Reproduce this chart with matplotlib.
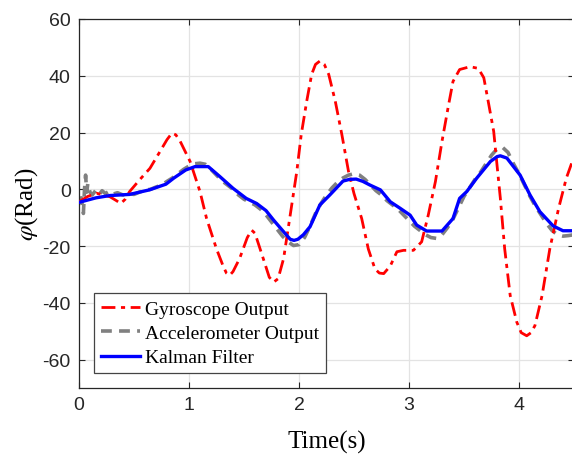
import matplotlib
matplotlib.use('Agg')
import matplotlib.pyplot as plt

# ── Data ───────────────────────────────────────────────────
gyro_t = [0.00, 0.08, 0.16, 0.28, 0.34, 0.38, 0.42, 0.46, 0.55, 0.645, 0.736, 0.80,
          0.845, 0.88, 0.92, 1.01, 1.10, 1.16, 1.25, 1.31, 1.34, 1.37, 1.40, 1.46,
          1.53, 1.57, 1.60, 1.675, 1.73, 1.77, 1.81, 1.86, 1.92, 1.98, 2.02, 2.07,
          2.115, 2.15, 2.19, 2.23, 2.27, 2.33, 2.39, 2.45, 2.50, 2.57, 2.63, 2.69,
          2.73, 2.77, 2.83, 2.89, 2.95, 3.04, 3.115, 3.175, 3.24, 3.30, 3.36, 3.40,
          3.46, 3.555, 3.63, 3.68, 3.72, 3.77, 3.80, 3.83, 3.87, 3.92, 3.98, 4.02,
          4.07, 4.11, 4.145, 4.21, 4.28, 4.36, 4.43, 4.50]
gyro_v = [-4.4, -2.5, -1.4, -2.6, -4.0, -5.0, -3.5, -0.8, 3.3, 7.4, 13.3, 17.5,
          19.8, 19.2, 16.9, 9.8, -0.8, -10.3, -21.0, -27.0, -29.5, -30.3, -29.0, -24.4,
          -17.0, -14.4, -15.5, -24.4, -31.0, -32.7, -31.5, -24.4, -9.1, 6.3, 19.2, 31.0,
          40.5, 44.0, 45.2, 44.0, 40.5, 31.0, 19.2, 6.3, -1.5, -10.3, -21.0, -28.0,
          -29.5, -29.7, -27.0, -22.0, -21.5, -21.5, -18.5, -9.1, 2.7, 16.9, 29.8, 38.0,
          42.2, 43.2, 42.6, 39.3, 31.0, 20.4, 8.6, -3.0, -21.0, -37.4, -46.8, -50.5,
          -51.6, -50.5, -48.0, -37.4, -21.0, -6.7, 3.9, 11.5]

acc_t = [0.00, 0.02, 0.03, 0.04, 0.05, 0.06, 0.07, 0.08, 0.10, 0.12, 0.15, 0.18,
         0.21, 0.24, 0.27, 0.30, 0.35, 0.40, 0.45, 0.50, 0.55, 0.60, 0.65, 0.70,
         0.75, 0.80, 0.85, 0.90, 0.95, 1.00, 1.05, 1.10, 1.15, 1.20, 1.25, 1.30,
         1.35, 1.40, 1.45, 1.50, 1.55, 1.60, 1.65, 1.70, 1.75, 1.80, 1.85, 1.90,
         1.95, 2.00, 2.05, 2.10, 2.15, 2.20, 2.25, 2.30, 2.35, 2.40, 2.45, 2.50,
         2.55, 2.60, 2.65, 2.70, 2.75, 2.80, 2.85, 2.90, 2.95, 3.00, 3.05, 3.10,
         3.15, 3.20, 3.25, 3.30, 3.35, 3.40, 3.45, 3.50, 3.55, 3.60, 3.65, 3.70,
         3.75, 3.80, 3.85, 3.90, 3.95, 4.00, 4.05, 4.10, 4.15, 4.20, 4.25, 4.30,
         4.35, 4.40, 4.45, 4.50]
acc_v = [-4.0, -3.0, -6.0, -8.5, 0.0, 5.0, -1.0, 2.0, -1.0, -2.0, -0.5, -2.0,
         -0.5, -1.5, -0.8, -1.8, -1.2, -2.0, -1.5, -1.8, -1.0, -0.3, 0.0, 0.8,
         1.5, 2.8, 4.0, 5.5, 7.0, 8.2, 9.0, 9.2, 8.8, 7.0, 5.0, 3.0,
         1.5, 0.0, -2.0, -3.5, -4.5, -5.5, -7.0, -9.0, -11.5, -14.0, -16.5, -18.5,
         -19.8, -19.5, -17.0, -13.0, -8.5, -5.0, -2.0, 0.5, 2.5, 4.0, 5.0, 5.5,
         5.0, 3.5, 1.5, -0.5, -2.0, -4.0, -5.5, -7.0, -9.0, -11.0, -13.0, -14.5,
         -16.0, -17.0, -17.3, -16.0, -13.5, -10.5, -6.5, -2.5, 0.5, 3.5, 6.0, 9.0,
         12.0, 14.2, 14.8, 13.0, 9.0, 5.5, 1.5, -2.5, -6.0, -9.0, -12.0, -14.5,
         -16.0, -16.5, -16.3, -16.0]

kal_t = [0.00, 0.155, 0.28, 0.46, 0.64, 0.79, 0.86, 0.97, 1.055, 1.175, 1.28, 1.40,
         1.52, 1.615, 1.70, 1.77, 1.85, 1.92, 1.955, 1.99, 2.04, 2.10, 2.19, 2.28,
         2.40, 2.46, 2.52, 2.58, 2.645, 2.74, 2.83, 2.92, 3.01, 3.07, 3.16, 3.30,
         3.40, 3.46, 3.525, 3.615, 3.74, 3.80, 3.83, 3.89, 4.01, 4.10, 4.19, 4.31,
         4.40, 4.50]
kal_v = [-4.6, -3.0, -2.2, -1.8, -0.2, 1.8, 3.9, 6.8, 8.0, 8.0, 4.5, 0.35,
         -3.2, -5.0, -7.5, -10.9, -14.5, -17.6, -18.0, -17.6, -16.0, -13.2, -5.5, -2.0,
         2.9, 3.5, 3.6, 2.8, 1.5, -0.2, -4.4, -6.7, -9.1, -12.6, -14.7, -14.7,
         -10.3, -3.2, -0.8, 3.9, 9.8, 11.5, 11.8, 11.0, 5.0, -2.0, -7.9, -12.9,
         -14.6, -14.6]

x_ticks = [0, 1, 2, 3, 4]
y_ticks = [-60, -40, -20, 0, 20, 40, 60]

# ── Style ──────────────────────────────────────────────────
plt.rcParams['axes.unicode_minus'] = False
plt.rcParams['mathtext.fontset'] = 'stix'
tick_col = '#262626'

fig = plt.figure(figsize=(5.72, 4.56), dpi=100)
ax = fig.add_axes([79 / 572, 67 / 456, 495 / 572, 369 / 456])

ax.plot(gyro_t, gyro_v, color='red', linewidth=2.0,
        linestyle=(0, (5, 2, 1.5, 2)), label='Gyroscope Output', zorder=3)
ax.plot(acc_t, acc_v, color='#808080', linewidth=2.6,
        linestyle=(0, (3, 2)), label='Accelerometer Output', zorder=2)
ax.plot(kal_t, kal_v, color='#0000ff', linewidth=2.4,
        label='Kalman Filter', zorder=4)

ax.set_xlim(0, 4.5)
ax.set_ylim(-70, 60)
ax.set_xticks(x_ticks)
ax.set_yticks(y_ticks)
ax.grid(True, color='#e3e3e3', linewidth=0.9)
ax.set_axisbelow(True)
ax.tick_params(direction='in', length=4, width=0.8, colors=tick_col,
               top=True, right=True, labelsize=14, pad=6)
for lab in ax.get_xticklabels() + ax.get_yticklabels():
    lab.set_fontfamily('Liberation Sans')
for sp in ax.spines.values():
    sp.set_color(tick_col)
    sp.set_linewidth(0.9)

ax.set_xlabel('Time(s)', fontsize=18, family='Liberation Serif', labelpad=12)
ax.set_ylabel(r'$\varphi$(Rad)', fontsize=18, family='Liberation Serif')
ax.yaxis.set_label_coords(-0.078, 0.5)

leg = ax.legend(loc='lower left', bbox_to_anchor=(0.03, 0.04), borderaxespad=0,
                prop={'family': 'Liberation Serif', 'size': 14},
                fancybox=False, framealpha=1, edgecolor='#444444',
                handlelength=2.0, handletextpad=0.3, labelspacing=0.35,
                borderpad=0.35)
leg.get_frame().set_linewidth(0.9)

fig.savefig('out.png', dpi=100)
